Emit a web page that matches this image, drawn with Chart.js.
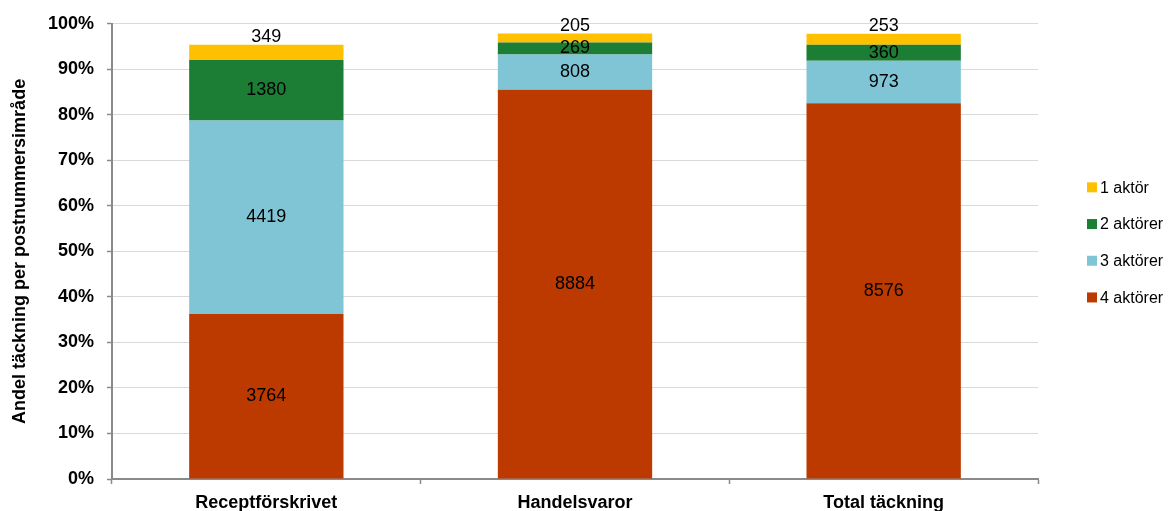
<!DOCTYPE html>
<html>
<head>
<meta charset="utf-8">
<script src="https://cdn.jsdelivr.net/npm/chart.js@4/dist/chart.umd.min.js"></script>
<style>
  html, body { margin: 0; padding: 0; background: #ffffff; }
  #wrap { width: 1174px; height: 511px; position: relative; }
</style>
</head>
<body>
<div id="wrap"><canvas id="chart"></canvas></div>
<script>
// Number of postal code areas per category and actor count
const categories = ['Receptförskrivet', 'Handelsvaror', 'Total täckning'];
const seriesNames = ['4 aktörer', '3 aktörer', '2 aktörer', '1 aktör'];
const fourActors = [3764, 8884, 8576];
const threeActors = [4419, 808, 973];
const twoActors = [1380, 269, 360];
const oneActor = [349, 205, 253];
// Total number of postal code areas (denominator for the shares)
const totalAreas = 10390;
// Y axis tick values in percent
const yTickValues = [0, 10, 20, 30, 40, 50, 60, 70, 80, 90, 100];

const seriesCounts = [fourActors, threeActors, twoActors, oneActor];
const palette = ['#BC3900', '#80C5D5', '#1C7D35', '#FFC000'];
const FONT = "'Liberation Sans', Arial, Helvetica, sans-serif";

const toShare = counts => counts.map(v => v / totalAreas * 100);

const datasets = seriesNames.map((name, i) => ({
  label: name,
  data: toShare(seriesCounts[i]),
  counts: seriesCounts[i],
  backgroundColor: palette[i],
  borderWidth: 0,
  categoryPercentage: 1,
  barPercentage: 0.5
}));

// Count labels inside each segment; the top segment gets its label just above
const countLabels = {
  id: 'countLabels',
  afterDatasetsDraw(chart) {
    const ctx = chart.ctx;
    ctx.save();
    ctx.font = '18px ' + FONT;
    ctx.fillStyle = '#000000';
    ctx.textAlign = 'center';
    ctx.textBaseline = 'middle';
    const last = chart.data.datasets.length - 1;
    chart.data.datasets.forEach((ds, di) => {
      const meta = chart.getDatasetMeta(di);
      meta.data.forEach((bar, j) => {
        const { x, y, base } = bar.getProps(['x', 'y', 'base'], true);
        const ty = di === last ? y - 8 : (y + base) / 2;
        ctx.fillText(String(ds.counts[j]), x, ty);
      });
    });
    ctx.restore();
  }
};

// Legend on the right, top entry is the top stack segment
const sideLegend = {
  id: 'sideLegend',
  afterDraw(chart) {
    const ctx = chart.ctx;
    const area = chart.chartArea;
    const n = chart.data.datasets.length;
    const rowGap = 36.7;
    const midY = (area.top + area.bottom) / 2;
    const startY = midY - rowGap * (n - 1) / 2 - 9;
    const boxX = area.right + 49;
    ctx.save();
    ctx.font = '16px ' + FONT;
    ctx.textAlign = 'left';
    ctx.textBaseline = 'middle';
    for (let k = 0; k < n; k++) {
      const ds = chart.data.datasets[n - 1 - k];
      const cy = startY + k * rowGap;
      ctx.fillStyle = ds.backgroundColor;
      ctx.fillRect(boxX, cy - 5, 10, 10);
      ctx.fillStyle = '#000000';
      ctx.fillText(ds.label, boxX + 13, cy + 1);
    }
    ctx.restore();
  }
};

new Chart(document.getElementById('chart'), {
  type: 'bar',
  data: { labels: categories, datasets },
  options: {
    responsive: true,
    maintainAspectRatio: false,
    animation: false,
    devicePixelRatio: 1,
    layout: { padding: { left: 9, right: 136, top: 23, bottom: 0 } },
    plugins: {
      legend: { display: false },
      tooltip: { enabled: false }
    },
    scales: {
      x: {
        stacked: true,
        offset: true,
        afterFit: s => { s.height = 32; },
        grid: {
          display: true,
          offset: true,
          drawOnChartArea: false,
          drawTicks: true,
          tickLength: 5,
          tickColor: '#8a8a8a',
          tickWidth: 1.5
        },
        border: { display: true, color: '#8a8a8a', width: 2 },
        ticks: {
          color: '#000000',
          padding: 8,
          maxRotation: 0,
          font: { family: FONT, size: 18, weight: 'bold' }
        }
      },
      y: {
        stacked: true,
        min: 0,
        max: 100,
        afterFit: s => { s.width = 103; },
        afterBuildTicks: s => { s.ticks = yTickValues.map(v => ({ value: v })); },
        grid: {
          color: '#d9d9d9',
          lineWidth: 1,
          drawTicks: true,
          tickLength: 5,
          tickColor: '#8a8a8a',
          tickWidth: 1.5
        },
        border: { display: true, color: '#8a8a8a', width: 2 },
        ticks: {
          color: '#000000',
          padding: 13,
          font: { family: FONT, size: 18, weight: 'bold' },
          callback: v => v + '%'
        },
        title: {
          display: true,
          text: 'Andel täckning per postnummersimråde',
          color: '#000000',
          padding: { top: 0, bottom: 0 },
          font: { family: FONT, size: 18, weight: 'bold' }
        }
      }
    }
  },
  plugins: [countLabels, sideLegend]
});
</script>
</body>
</html>
